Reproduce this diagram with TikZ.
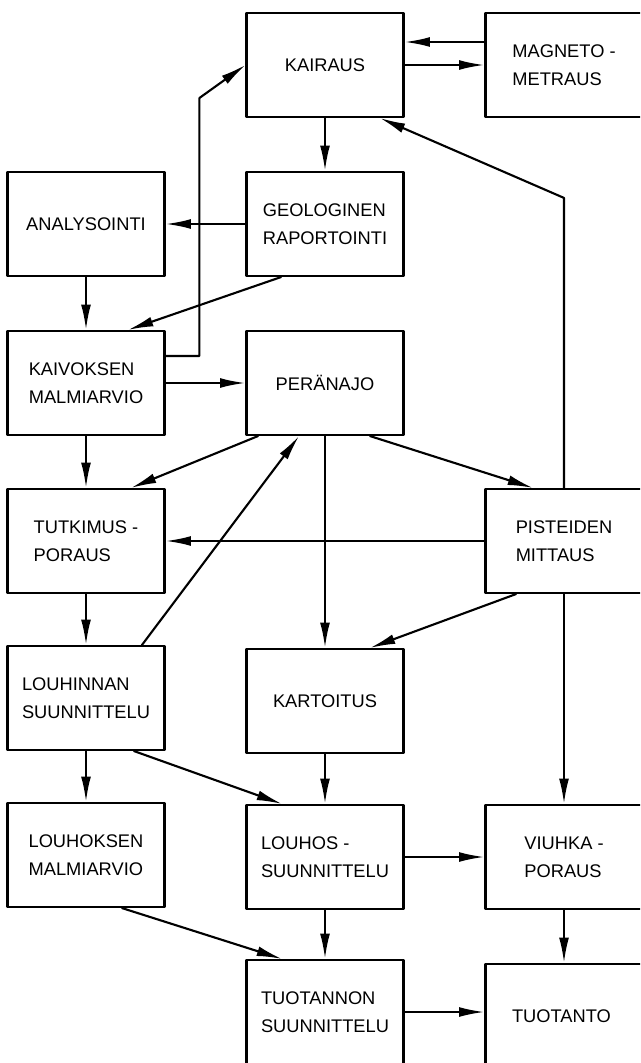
\documentclass[tikz,border=0pt]{standalone}
\usepackage{fontspec}
\setmainfont{Liberation Sans}
\usetikzlibrary{arrows.meta,calc}

\begin{document}
\begin{tikzpicture}[x=0.025cm,y=-0.025cm,line cap=round,line join=round,
  box/.style={draw,line width=1.5pt,minimum width=3.925cm,minimum height=2.6cm,
    align=left,font=\fontsize{13}{20}\selectfont},
  arr/.style={line width=1.5pt,-{Latex[length=18pt,width=7pt]}}]
\useasboundingbox (0,0) rectangle (640,1063);
\clip (0,0) rectangle (640,1063);
\foreach \n/\x/\y/\t in {
kairaus/325/65/KAIRAUS,
magneto/564/65/MAGNETO -\\METRAUS,
analysointi/86/224/ANALYSOINTI,
geologinen/325/224/GEOLOGINEN\\RAPORTOINTI,
kaivoksen/86/383/KAIVOKSEN\\MALMIARVIO,
peranajo/325/383/PERÄNAJO,
tutkimus/86/541/TUTKIMUS -\\PORAUS,
pisteiden/564/541/PISTEIDEN\\MITTAUS,
louhinnan/86/698/LOUHINNAN\\SUUNNITTELU,
kartoitus/325/701/KARTOITUS,
louhoksen/86/855/LOUHOKSEN\\MALMIARVIO,
louhos/325/857/LOUHOS -\\SUUNNITTELU,
viuhka/564/857/VIUHKA -\\PORAUS,
tuotannon/325/1012/TUOTANNON\\SUUNNITTELU,
tuotanto/564/1016/TUOTANTO
} {
  \node[box] (\n) at (\x,\y) {\t};
}
% top row
\draw[arr] ($(magneto.west)+(0,-23)$) -- ($(kairaus.east)+(0,-23)$);
\draw[arr] (kairaus) -- (magneto);
\draw[arr] (kairaus) -- (geologinen);
\draw[arr] (geologinen) -- (analysointi);
\draw[arr] (analysointi) -- (kaivoksen);
\draw[arr] ($(geologinen.south)+(-44,0)$) -- ($(kaivoksen.north)+(42,0)$);
\draw[arr] ($(kaivoksen.east)+(0,-27)$) -| ($(kairaus.west)+(-46,33)$) -- (kairaus.west);
% middle
\draw[arr] (kaivoksen) -- (peranajo);
\draw[arr] (kaivoksen) -- (tutkimus);
\draw[arr] ($(peranajo.south)+(-67,0)$) -- ($(tutkimus.north)+(45,0)$);
\draw[arr] ($(peranajo.south)+(45,0)$) -- ($(pisteiden.north)+(-31,0)$);
\draw[arr] (peranajo) -- (kartoitus);
\draw[arr] ($(louhinnan.north)+(56,0)$) -- ($(peranajo.south)+(-26,0)$);
\draw[arr] (pisteiden) -- (tutkimus);
\coordinate (bend) at ($(pisteiden.north)+(0,-290)$);
\draw[arr] (pisteiden.north) -- (bend) -- ($(kairaus.south)+(55,0)$);
\draw[arr] ($(pisteiden.south)+(-48,0)$) -- ($(kartoitus.north)+(45,0)$);
\draw[arr] (pisteiden) -- (viuhka);
% bottom
\draw[arr] (tutkimus) -- (louhinnan);
\draw[arr] (kartoitus) -- (louhos);
\draw[arr] ($(louhinnan.south)+(48,0)$) -- ($(louhos.north)+(-43,0)$);
\draw[arr] (louhinnan) -- (louhoksen);
\draw[arr] (louhos) -- (viuhka);
\draw[arr] ($(louhoksen.south)+(36,0)$) -- ($(tuotannon.north)+(-43,0)$);
\draw[arr] (louhos) -- (tuotannon);
\draw[arr] (viuhka) -- (tuotanto);
\draw[arr] (tuotannon.east) -- (tuotannon.east -| tuotanto.west);
\end{tikzpicture}
\end{document}
